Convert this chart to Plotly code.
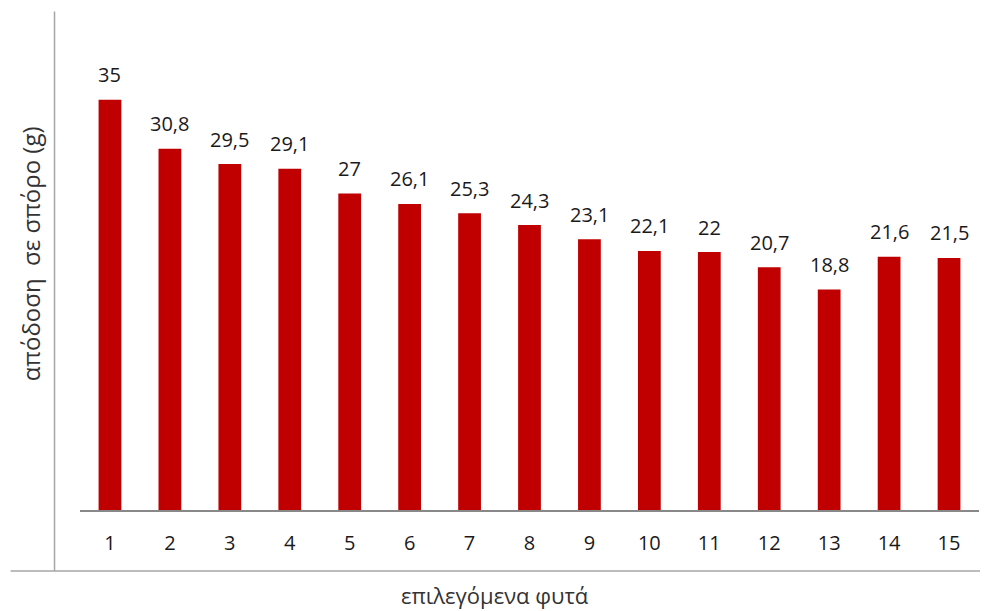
import plotly.graph_objects as go

categories = [str(i) for i in range(1, 16)]
values = [35, 30.8, 29.5, 29.1, 27, 26.1, 25.3, 24.3, 23.1, 22.1, 22, 20.7, 18.8, 21.6, 21.5]
value_labels = ["35", "30,8", "29,5", "29,1", "27", "26,1", "25,3", "24,3", "23,1",
                "22,1", "22", "20,7", "18,8", "21,6", "21,5"]
y_title = "απόδοση  σε σπόρο (g)"
x_title = "επιλεγόμενα φυτά"

W, H = 988, 611
OFF = 8  # page body margin offset
L = 79.5 - OFF
T = 41.4 - OFF
B = H - (510 - OFF)
R = W - (979.5 - OFF)
pw = W - L - R
ph = H - T - B

def px(x):
    return (x - OFF - L) / pw

def py(y):
    return ((510 - OFF) - (y - OFF)) / ph

fig = go.Figure(go.Bar(
    x=categories, y=values,
    marker=dict(color="#C00000", line=dict(width=0)),
    width=0.38,
))

for i, (v, t) in enumerate(zip(values, value_labels)):
    fig.add_annotation(x=i, y=v, text=t, showarrow=False, yshift=25,
                       xanchor="center", yanchor="middle",
                       font=dict(family="Open Sans", size=20, color="#1a1a1a"))

fig.add_shape(type="line", xref="paper", yref="paper",
              x0=px(54), x1=px(54), y0=py(12), y1=py(571),
              line=dict(color="#a6a6a6", width=1.5))
fig.add_shape(type="line", xref="paper", yref="paper",
              x0=px(10), x1=px(988), y0=py(571), y1=py(571),
              line=dict(color="#a6a6a6", width=1.5))

fig.add_annotation(xref="paper", yref="paper", x=px(30), y=py(254),
                   xanchor="center", yanchor="middle",
                   text=y_title, textangle=-90, showarrow=False,
                   font=dict(family="Open Sans", size=24, color="#333333"))
fig.add_annotation(xref="paper", yref="paper", x=px(495), y=py(595),
                   xanchor="center", yanchor="middle",
                   text=x_title, showarrow=False,
                   font=dict(family="Open Sans", size=22, color="#333333"))

fig.update_layout(
    width=W, height=H,
    margin=dict(l=L, r=R, t=T, b=B, pad=0),
    paper_bgcolor="white", plot_bgcolor="white",
    showlegend=False,
    xaxis=dict(type="category", showline=True, linecolor="#888888", linewidth=1.5,
               ticks="", showgrid=False, zeroline=False,
               tickfont=dict(family="Open Sans", size=20, color="#1a1a1a"),
               ticklabelstandoff=14),
    yaxis=dict(range=[0, 40], visible=False, showgrid=False, zeroline=False),
)

fig.write_html("out.html")
